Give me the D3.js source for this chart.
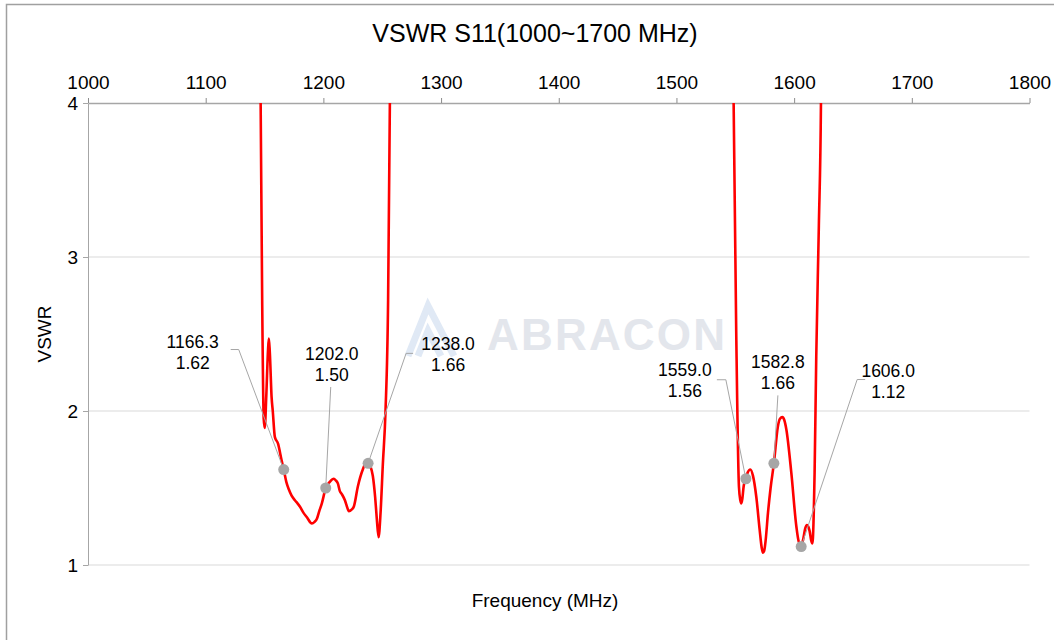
<!DOCTYPE html>
<html>
<head>
<meta charset="utf-8">
<script src="https://cdn.jsdelivr.net/npm/d3@7"></script>
<style>
  body { margin: 0; background: #fff; }
  svg { display: block; font-family: "Liberation Sans", Arial, sans-serif; }
</style>
</head>
<body>
<div id="chart"></div>
<script>
// data
var xTicks = [1000, 1100, 1200, 1300, 1400, 1500, 1600, 1700, 1800]
var yTicks = [1, 2, 3, 4]

// lower band
var bandLowFreq = [1146.0, 1146.7, 1148.0, 1149.3, 1150.2, 1151.5, 1153.0, 1153.7, 1154.5, 1156.0, 1157.0, 1158.8, 1161.4,
  1164.5, 1166.3, 1168.5, 1170.7, 1173.0, 1175.8, 1178.0, 1180.0, 1183.0, 1186.0, 1190.2, 1192.5, 1194.5,
  1196.5, 1198.7, 1202.0, 1205.5, 1208.9, 1210.5, 1212.3, 1214.0, 1215.7, 1218.3, 1220.0, 1221.7, 1224.0,
  1225.9, 1229.3, 1233.5, 1236.0, 1238.0, 1240.0, 1242.0, 1244.0, 1245.4, 1246.9, 1248.6, 1250.5, 1252.8,
  1255.0, 1256.5, 1257.0]
var bandLowVswr = [4.6, 4.0, 2.72, 1.95, 1.89, 2.10, 2.40, 2.47, 2.38, 2.09, 2.00, 1.83, 1.79,
  1.68, 1.62, 1.54, 1.49, 1.45, 1.42, 1.40, 1.38, 1.34, 1.31, 1.27, 1.28, 1.30,
  1.35, 1.40, 1.50, 1.54, 1.56, 1.55, 1.53, 1.48, 1.46, 1.42, 1.38, 1.35, 1.36,
  1.38, 1.51, 1.62, 1.66, 1.66, 1.64, 1.58, 1.44, 1.30, 1.18, 1.34, 1.65, 2.00,
  2.72, 4.0, 4.6]

// upper band
var bandHighFreq = [1548.0, 1548.6, 1550.9, 1553.1, 1554.3, 1555.1, 1556.0, 1557.1, 1558.8, 1560.5, 1562.8, 1565.0,
  1567.9, 1570.7, 1572.5, 1573.5, 1574.5, 1575.8, 1577.8, 1580.0, 1582.8, 1586.2, 1588.0, 1590.0,
  1591.7, 1593.4, 1597.6, 1601.9, 1604.0, 1606.0, 1607.5, 1609.5, 1610.9, 1612.0, 1613.2, 1614.5,
  1615.5, 1617.4, 1618.8, 1621.0, 1622.8, 1623.4]
var bandHighVswr = [4.6, 4.0, 2.46, 1.51, 1.42, 1.40, 1.43, 1.51, 1.56, 1.60, 1.62, 1.58,
  1.44, 1.23, 1.11, 1.08, 1.09, 1.16, 1.34, 1.50, 1.66, 1.90, 1.95, 1.96,
  1.94, 1.88, 1.60, 1.25, 1.15, 1.13, 1.16, 1.24, 1.26, 1.25, 1.22, 1.16,
  1.14, 1.60, 2.35, 3.2, 4.0, 4.6]

// markers
var markFreq = [1166.3, 1202.0, 1238.0, 1559.0, 1582.8, 1606.0]
var markVswr = [1.62, 1.50, 1.66, 1.56, 1.66, 1.12]

// label placement relative to each marker (pixels): text centre, leader start, leader elbow
var labelLayout = [
  {dx: -91, dy: -122, lead: [[-53, -120], [-45, -120]]},
  {dx: 6, dy: -128, lead: [[5, -101]]},
  {dx: 80, dy: -113, lead: [[45, -110], [38, -110]]},
  {dx: -61, dy: -103, lead: [[-29, -99], [-20, -99]]},
  {dx: 4, dy: -95, lead: [[4, -68]]},
  {dx: 87, dy: -170, lead: [[64, -167], [56, -167]]}
]

var width = 1054
var height = 640
var plotLeft = 88, plotRight = 1029.5, plotTop = 103, plotBottom = 565

var svg = d3.select('#chart').append('svg')
  .attr('width', width)
  .attr('height', height)

// chart frame
svg.append('path')
  .attr('d', 'M6.5,' + height + 'V4.5H' + width)
  .attr('fill', 'none')
  .attr('stroke', '#a0a0a0')
  .attr('stroke-width', 1.5)

var x = d3.scaleLinear().domain([1000, 1800]).range([plotLeft, plotRight])
var y = d3.scaleLinear().domain([1, 4]).range([plotBottom, plotTop])

// watermark
var wm = svg.append('g')
wm.append('path')
  .attr('d', 'M408,356 L428,306 L454,356 M418,356 L428,331 L441,356')
  .attr('fill', 'none')
  .attr('stroke', '#e0e9f5')
  .attr('stroke-width', 7)
wm.append('text')
  .attr('x', 487)
  .attr('y', 350)
  .text('ABRACON')
  .attr('font-size', 44)
  .attr('font-weight', 'bold')
  .attr('fill', '#e3e6ec')
  .attr('textLength', 238)

// gridlines
svg.append('g')
  .selectAll('line')
  .data(yTicks)
  .enter()
  .append('line')
  .attr('x1', plotLeft)
  .attr('x2', plotRight)
  .attr('y1', d => y(d))
  .attr('y2', d => y(d))
  .attr('stroke', d => d === 4 ? 'none' : '#d9d9d9')
  .attr('stroke-width', 1)

// top axis
var xAxis = svg.append('g')
  .attr('transform', 'translate(0,' + plotTop + ')')
  .call(d3.axisTop(x).tickValues(xTicks).tickSize(5).tickSizeOuter(0).tickFormat(d3.format('d')))
xAxis.select('.domain').attr('stroke', '#a6a6a6').attr('stroke-width', 1.6)
xAxis.selectAll('.tick line').attr('stroke', '#8c8c8c')
xAxis.selectAll('.tick text')
  .attr('font-size', 19)
  .attr('fill', '#000')
  .attr('font-family', '"Liberation Sans", Arial, sans-serif')
  .attr('y', -14)

// left axis
var yAxis = svg.append('g')
  .attr('transform', 'translate(' + plotLeft + ',0)')
  .call(d3.axisLeft(y).tickValues(yTicks).tickSize(5).tickSizeOuter(0).tickFormat(d3.format('d')))
yAxis.select('.domain').attr('stroke', '#a6a6a6').attr('stroke-width', 1)
yAxis.selectAll('.tick line').attr('stroke', '#a6a6a6')
yAxis.selectAll('.tick text')
  .attr('font-size', 19)
  .attr('fill', '#000')
  .attr('font-family', '"Liberation Sans", Arial, sans-serif')
  .attr('x', -10)

// curve
svg.append('clipPath').attr('id', 'plot')
  .append('rect')
  .attr('x', plotLeft).attr('y', plotTop)
  .attr('width', plotRight - plotLeft).attr('height', plotBottom - plotTop)

var line = d3.line()
  .x(d => x(d[0]))
  .y(d => y(d[1]))
  .curve(d3.curveMonotoneX)

var bands = [d3.zip(bandLowFreq, bandLowVswr), d3.zip(bandHighFreq, bandHighVswr)]
svg.append('g')
  .attr('clip-path', 'url(#plot)')
  .selectAll('path')
  .data(bands)
  .enter()
  .append('path')
  .attr('d', line)
  .attr('fill', 'none')
  .attr('stroke', '#ff0000')
  .attr('stroke-width', 2.6)
  .attr('stroke-linejoin', 'round')

// markers and labels
var marks = markFreq.map((f, i) => ({f: f, v: markVswr[i], lay: labelLayout[i]}))

svg.append('g')
  .selectAll('path')
  .data(marks)
  .enter()
  .append('path')
  .attr('d', d => {
    var px = x(d.f), py = y(d.v)
    var pts = d.lay.lead.map(p => [px + p[0], py + p[1]])
    pts.push([px, py])
    return d3.line()(pts)
  })
  .attr('fill', 'none')
  .attr('stroke', '#a6a6a6')
  .attr('stroke-width', 1)

svg.append('g')
  .selectAll('circle')
  .data(marks)
  .enter()
  .append('circle')
  .attr('cx', d => x(d.f))
  .attr('cy', d => y(d.v))
  .attr('r', 5.5)
  .attr('fill', '#a6a6a6')

var labels = svg.append('g')
  .selectAll('text')
  .data(marks)
  .enter()
  .append('text')
  .attr('text-anchor', 'middle')
  .attr('font-size', 17.5)
  .attr('fill', '#000')
labels.append('tspan')
  .attr('x', d => x(d.f) + d.lay.dx)
  .attr('y', d => y(d.v) + d.lay.dy)
  .text(d => d.f.toFixed(1))
labels.append('tspan')
  .attr('x', d => x(d.f) + d.lay.dx)
  .attr('y', d => y(d.v) + d.lay.dy + 21)
  .text(d => d.v.toFixed(2))

// titles
svg.append('text')
  .attr('x', 535)
  .attr('y', 42)
  .attr('text-anchor', 'middle')
  .attr('font-size', 25)
  .text('VSWR S11(1000~1700 MHz)')

svg.append('text')
  .attr('x', 545)
  .attr('y', 607)
  .attr('text-anchor', 'middle')
  .attr('font-size', 19)
  .text('Frequency (MHz)')

svg.append('text')
  .attr('transform', 'translate(51,334)rotate(-90)')
  .attr('text-anchor', 'middle')
  .attr('font-size', 19)
  .text('VSWR')
</script>
</body>
</html>
